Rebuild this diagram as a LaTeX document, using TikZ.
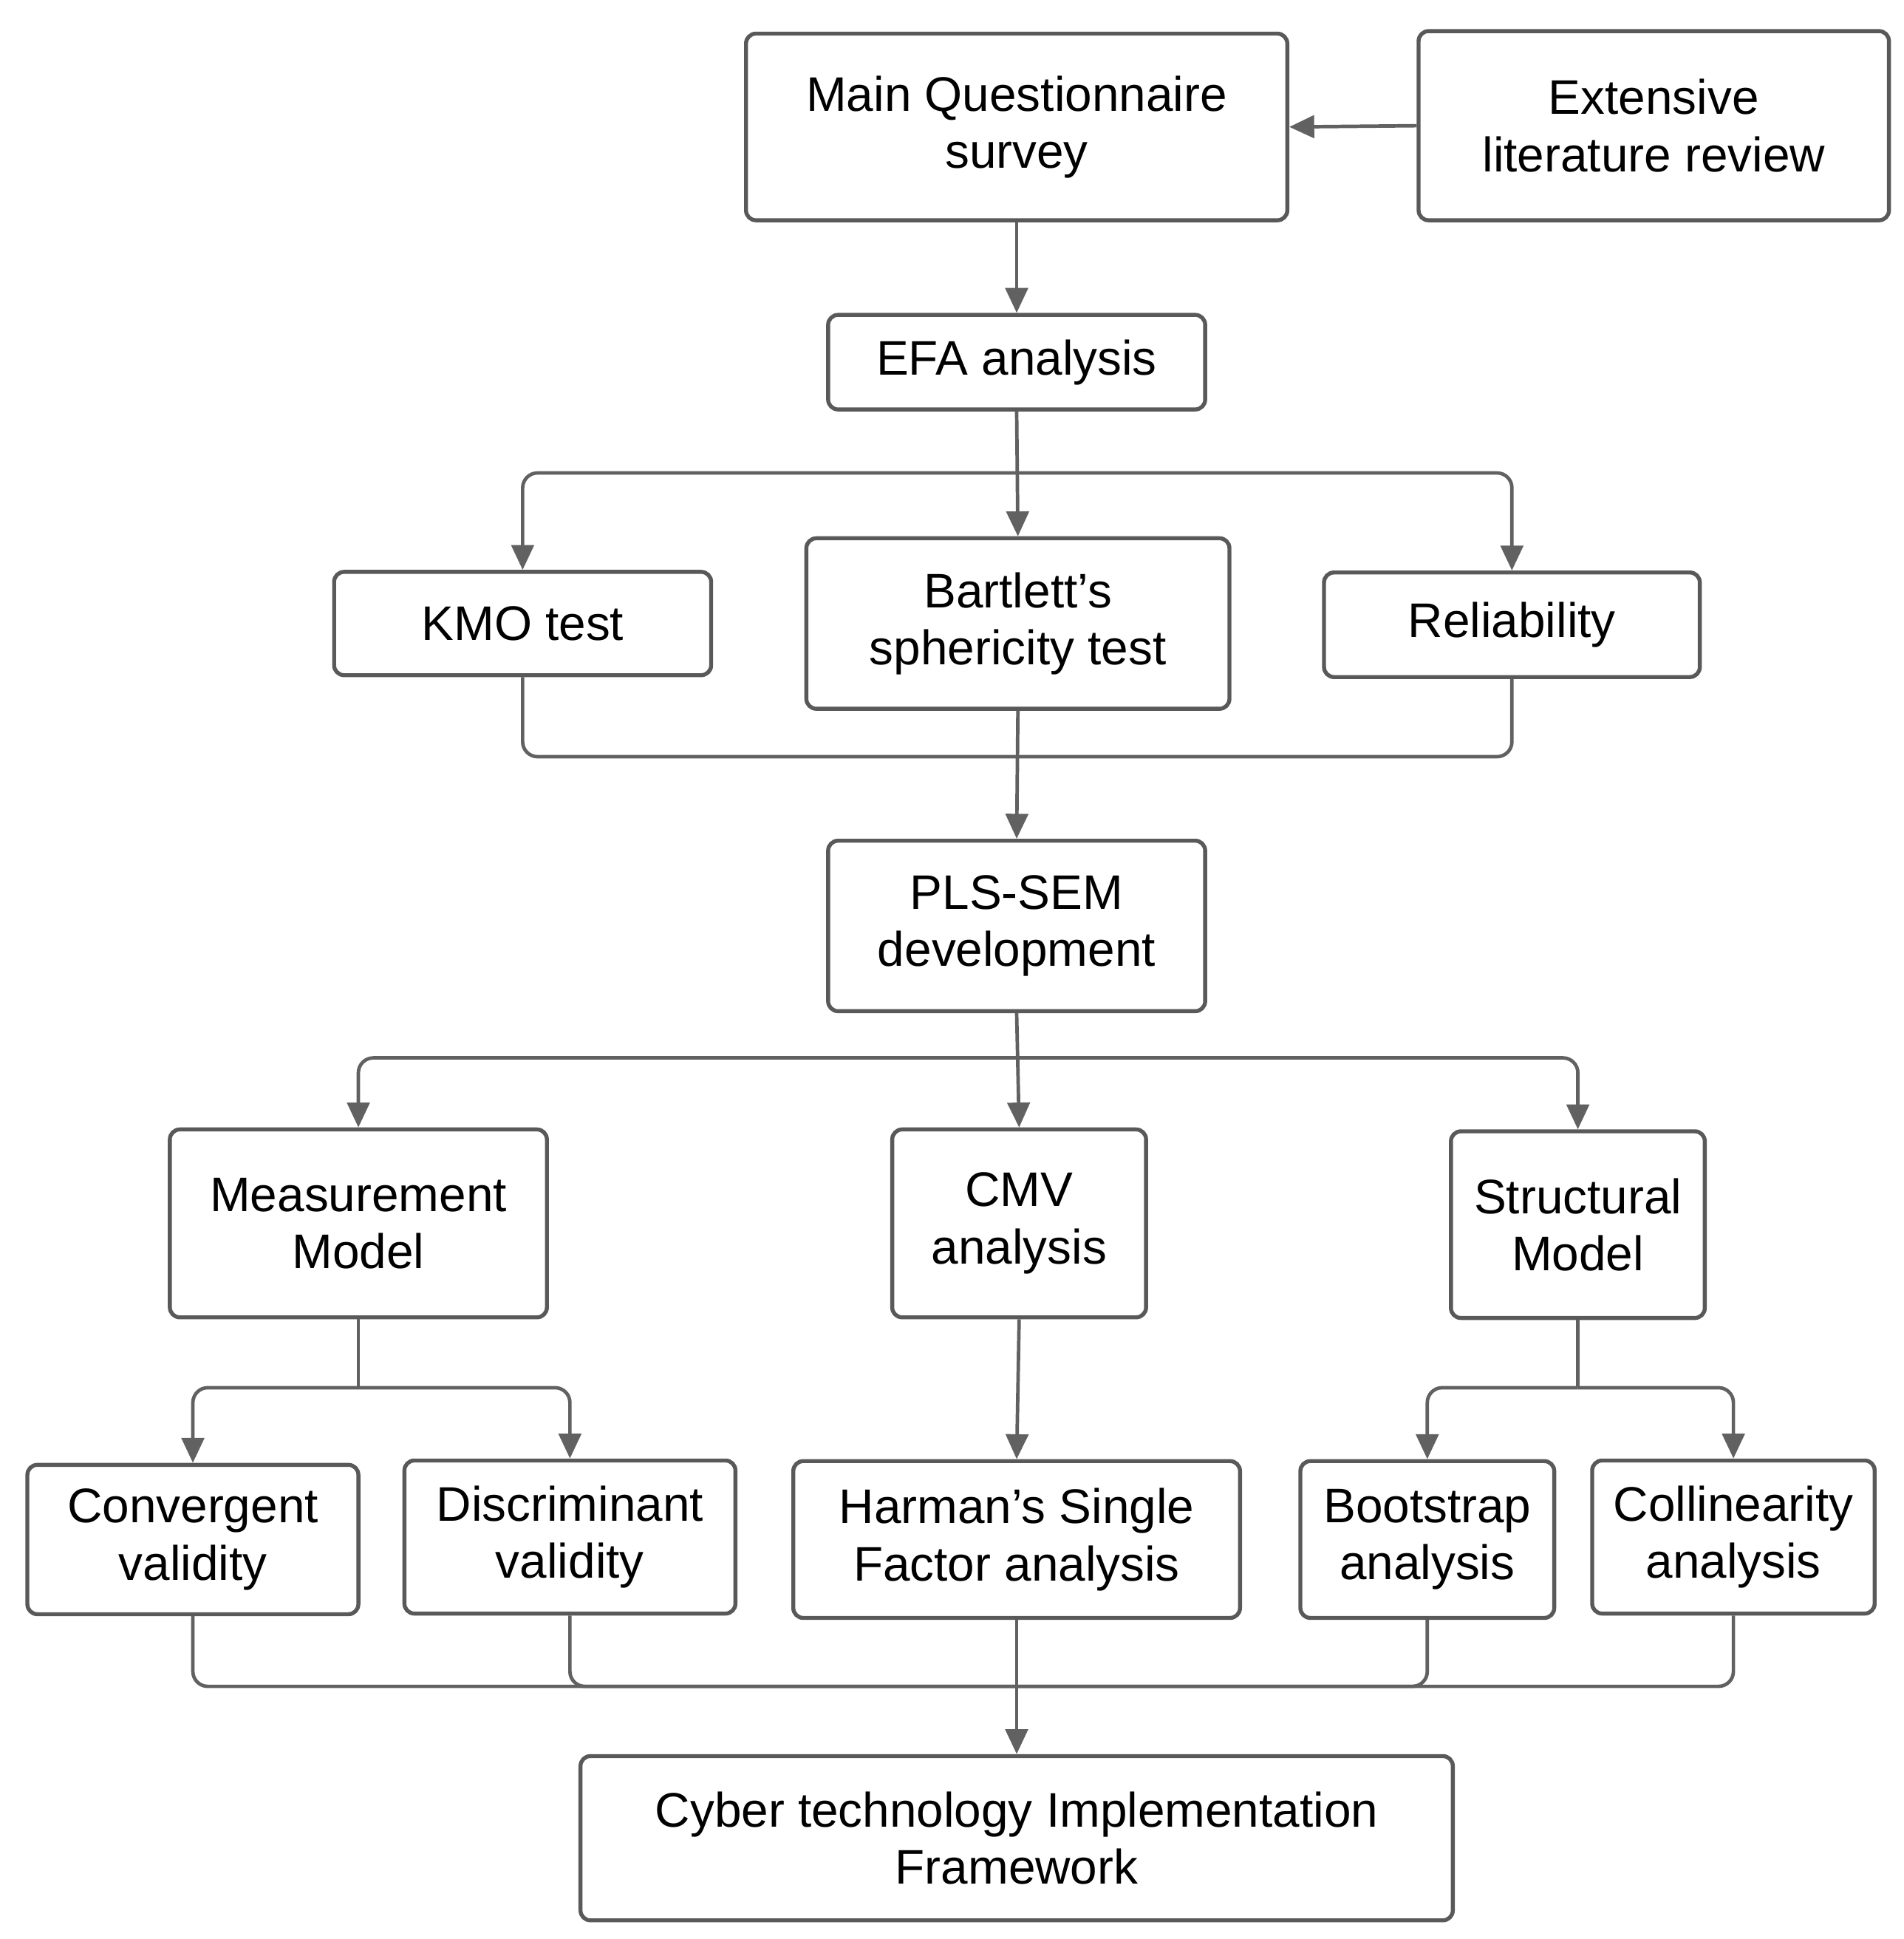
\documentclass[tikz,border=0pt]{standalone}
\usepackage{fontspec}
\setmainfont{Liberation Sans}
\usetikzlibrary{arrows.meta}
\begin{document}
\begin{tikzpicture}[x=0.5pt,y=-0.5pt,
  box/.style={draw=black!65,line width=1.6pt,rounded corners=4pt,align=center,inner sep=0pt,
    font=\fontsize{19.5pt}{23pt}\selectfont},
  ln/.style={draw=black!62,line width=1.4pt,rounded corners=6pt},
  arr/.style={ln,-{Triangle[length=10pt,width=9pt]}}]
\useasboundingbox (0,0) rectangle (1530,1558);
\newcommand\B[6]{\node[box,minimum width=#4*0.5pt,minimum height=#5*0.5pt] (#1) at (#2,#3) {#6};}
\B{main}{817}{102}{435}{150}{Main Questionnaire\\survey}
\B{ext}{1329}{101}{378}{152}{Extensive\\literature review}
\B{efa}{817}{291}{303}{76}{EFA analysis}
\B{kmo}{420}{501}{303}{83}{KMO test}
\B{bart}{818}{501}{340}{137}{Bartlett's\\sphericity test}
\B{rel}{1215}{502}{302}{84}{Reliability}
\B{pls}{817}{744}{303}{137}{PLS-SEM\\development}
\B{meas}{288}{983}{303}{151}{Measurement\\Model}
\B{cmv}{819}{983}{204}{151}{CMV\\analysis}
\B{str}{1268}{984}{204}{150}{Structural\\Model}
\B{conv}{155}{1237}{266}{120}{Convergent\\validity}
\B{disc}{458}{1235}{266}{123}{Discriminant\\validity}
\B{harm}{817}{1237}{359}{126}{Harman's Single\\Factor analysis}
\B{boot}{1147}{1237}{204}{126}{Bootstrap\\analysis}
\B{coll}{1393}{1235}{227}{123}{Collinearity\\analysis}
\B{cyb}{817}{1477}{701}{132}{Cyber technology Implementation\\Framework}
\coordinate (b1) at (817,380);
\coordinate (b2) at (817,608);
\coordinate (b3) at (817,850);
\coordinate (b4) at (288,1115);
\coordinate (b5) at (1268,1115);
\coordinate (b6) at (817,1355);
\draw[arr] (ext.west) -- (main.east);
\draw[arr] (main.south) -- (efa.north);
\draw[arr] (efa.south) -- (bart.north);
\draw[arr] (b1) -| (kmo.north);
\draw[arr] (b1) -| (rel.north);
\draw[arr] (bart.south) -- (pls.north);
\draw[ln] (kmo.south) |- (b2);
\draw[ln] (rel.south) |- (b2);
\draw[arr] (pls.south) -- (cmv.north);
\draw[arr] (b3) -| (meas.north);
\draw[arr] (b3) -| (str.north);
\draw[ln] (meas.south) -- (b4);
\draw[arr] (b4) -| (conv.north);
\draw[arr] (b4) -| (disc.north);
\draw[ln] (str.south) -- (b5);
\draw[arr] (b5) -| (boot.north);
\draw[arr] (b5) -| (coll.north);
\draw[arr] (cmv.south) -- (harm.north);
\draw[arr] (harm.south) -- (cyb.north);
\draw[ln] (conv.south) |- (b6);
\draw[ln] (disc.south) |- (b6);
\draw[ln] (boot.south) |- (b6);
\draw[ln] (coll.south) |- (b6);
\end{tikzpicture}
\end{document}
